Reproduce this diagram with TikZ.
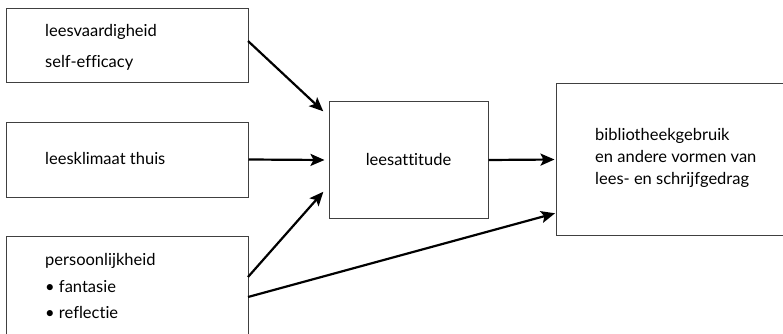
\documentclass[tikz,border=0pt]{standalone}
\usepackage{fontspec}
\setmainfont[Ligatures=NoCommon]{Lato}
\usetikzlibrary{arrows.meta,calc}
\begin{document}
\begin{tikzpicture}[x=1pt,y=-1pt,
  box/.style={draw=black!75,line width=1pt,minimum width=#1,inner sep=0pt},
  txt/.style={anchor=base west,inner sep=0pt,font=\fontsize{16.5}{19}\selectfont},
  arr/.style={line width=2.2pt,-{Stealth[length=14pt,width=12pt,inset=3pt]},shorten >=1pt}]
\useasboundingbox (0,0) rectangle (783,334);
\clip (0,0) rectangle (783,334);
\node[box=242pt,minimum height=74pt] (b1) at (127,46) {};
\node[box=242pt,minimum height=75pt] (b2) at (127,159.5) {};
\node[box=242pt,minimum height=124pt] (b3) at (127,298) {};
\node[box=159pt,minimum height=116pt] (bc) at (408.5,160) {};
\node[box=250pt,minimum height=151pt] (br) at (681,159.5) {};
\node[txt] (t1a) at (45,37) {leesvaardigheid};
\node[txt] (t1b) at (45,68) {self-efficacy};
\node[txt] (t2) at (45,164) {leesklimaat thuis};
\node[txt] (t3a) at (45,265) {persoonlijkheid};
\node[txt] (t3b) at (45,292) {\textbullet{} fantasie};
\node[txt] (t3c) at (45,318) {\textbullet{} reflectie};
\node[txt,anchor=base] (tc) at (bc.center) [yshift=-5pt] {leesattitude};
\node[txt] (tra) at (595,140) {bibliotheekgebruik};
\node[txt] (trb) at (595,162) {en andere vormen van};
\node[txt] (trc) at (595,184) {lees- en schrijfgedrag};
\coordinate (s1) at (248,41);
\coordinate (e1) at (324,112);
\coordinate (e3) at (324,191);
\coordinate (s3) at (248,277);
\coordinate (s5) at (248,297);
\coordinate (e5) at (556,213);
\draw[arr] (s1) -- (e1);
\draw[arr] (b2.east) -- ($(bc.west)+(-3,0)$);
\draw[arr] (s3) -- (e3);
\draw[arr] (bc.east) -- (br.west);
\draw[arr] (s5) -- (e5);
\end{tikzpicture}
\end{document}
